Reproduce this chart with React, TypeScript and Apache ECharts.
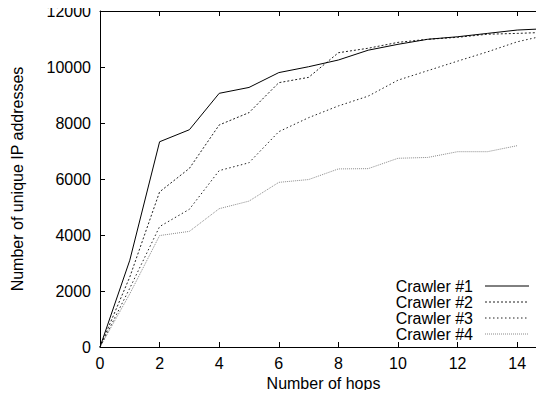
import React, { useEffect, useRef } from "react";
import * as echarts from "echarts";

const hops = [0, 1, 2, 3, 4, 5, 6, 7, 8, 9, 10, 11, 12, 13, 14, 15];
const crawler1 = [0, 3100, 7330, 7760, 9060, 9270, 9800, 10010, 10250, 10600, 10810, 10990, 11080, 11200, 11320, 11370];
const crawler2 = [0, 2500, 5540, 6380, 7930, 8370, 9440, 9630, 10510, 10670, 10880, 10990, 11060, 11170, 11200, 11240];
const crawler3 = [0, 2100, 4300, 4920, 6300, 6580, 7690, 8190, 8610, 8960, 9530, 9870, 10210, 10540, 10900, 11140];
const crawler4 = [0, 1900, 3980, 4130, 4940, 5210, 5880, 5980, 6360, 6370, 6740, 6770, 6975, 6975, 7190];
const seriesNames = ["Crawler #1", "Crawler #2", "Crawler #3", "Crawler #4"];
const yTicks = [0, 2000, 4000, 6000, 8000, 10000, 12000];
const xMax = 15;

const FONT = "'Liberation Sans', Arial, Helvetica, sans-serif";
const styles = [
  { color: "#000000", type: "solid" as any, width: 1 },
  { color: "#222222", type: [2, 2] as any, width: 1 },
  { color: "#222222", type: [1.5, 2.5] as any, width: 1 },
  { color: "#8a8a8a", type: [1, 1] as any, width: 1 },
];

function axisParts() {
  return {
    axisLine: { show: true, onZero: false, lineStyle: { color: "#000", width: 1 } },
    axisTick: { show: true, inside: true, length: 5, lineStyle: { color: "#000", width: 1 } },
    splitLine: { show: false },
  };
}

export default function App() {
  const ref = useRef<HTMLDivElement>(null);
  useEffect(() => {
    if (!ref.current) return;
    const chart = echarts.init(ref.current, null, { renderer: "svg" });
    const datasets = [crawler1, crawler2, crawler3, crawler4];
    const series = datasets.map((d, i) => ({
      name: seriesNames[i],
      type: "line",
      data: d.map((v, j) => [hops[j], v]),
      symbol: "none",
      lineStyle: styles[i],
      z: 10 - i,
    }));
    const legendGraphics: any[] = [];
    seriesNames.forEach((n, i) => {
      const y = 286 + i * 16;
      legendGraphics.push({
        type: "text",
        x: 473,
        y,
        z: 100,
        style: { text: n, font: `16px ${FONT}`, fill: "#000", textAlign: "right", textVerticalAlign: "middle" },
      });
      legendGraphics.push({
        type: "line",
        z: 100,
        shape: { x1: 485, y1: y, x2: 529, y2: y },
        style: {
          stroke: styles[i].color,
          lineWidth: 1,
          lineDash: styles[i].type === "solid" ? null : styles[i].type,
        },
      });
    });
    const plain = (v: number) => String(v);
    const blank = () => "";
    chart.setOption({
      animation: false,
      grid: { left: 100, top: 11, bottom: 51, right: -3, outerBoundsMode: "none" },
      xAxis: [
        {
          type: "value",
          min: 0,
          max: xMax,
          interval: 2,
          position: "bottom",
          ...axisParts(),
          axisLabel: { show: true, margin: 8, fontSize: 16, color: "#000", fontFamily: FONT, showMaxLabel: false, formatter: plain },
          name: "Number of hops",
          nameLocation: "middle",
          nameGap: 27,
          nameTextStyle: { fontSize: 16, color: "#000", fontFamily: FONT },
        },
        {
          type: "value",
          min: 0,
          max: xMax,
          interval: 2,
          position: "top",
          ...axisParts(),
          axisLabel: { show: true, formatter: blank },
        },
      ],
      yAxis: [
        {
          type: "value",
          min: yTicks[0],
          max: yTicks[yTicks.length - 1],
          interval: 2000,
          position: "left",
          ...axisParts(),
          axisLabel: { show: true, margin: 9, fontSize: 16, color: "#000", fontFamily: FONT, formatter: plain },
          name: "Number of unique IP addresses",
          nameLocation: "middle",
          nameGap: 75,
          nameTextStyle: { fontSize: 16, color: "#000", fontFamily: FONT },
        },
        {
          type: "value",
          min: yTicks[0],
          max: yTicks[yTicks.length - 1],
          interval: 2000,
          position: "right",
          ...axisParts(),
          axisLabel: { show: true, formatter: blank },
        },
      ],
      series,
      graphic: legendGraphics,
    });
    const tl = chart.convertToPixel({ gridIndex: 0 }, [0, yTicks[yTicks.length - 1]]) as number[];
    const br = chart.convertToPixel({ gridIndex: 0 }, [xMax, yTicks[0]]) as number[];
    if (tl && br) {
      const topY = Math.round(tl[1]) + 0.5;
      chart.setOption({
        graphic: [
          ...legendGraphics,
          {
            type: "line",
            z: 100,
            shape: { x1: tl[0], y1: topY, x2: br[0], y2: topY },
            style: { stroke: "#000", lineWidth: 1 },
          },
        ],
      });
    }
    return () => chart.dispose();
  }, []);
  return <div ref={ref} style={{ width: 544, height: 398, margin: -8, background: "#fff" }} />;
}
